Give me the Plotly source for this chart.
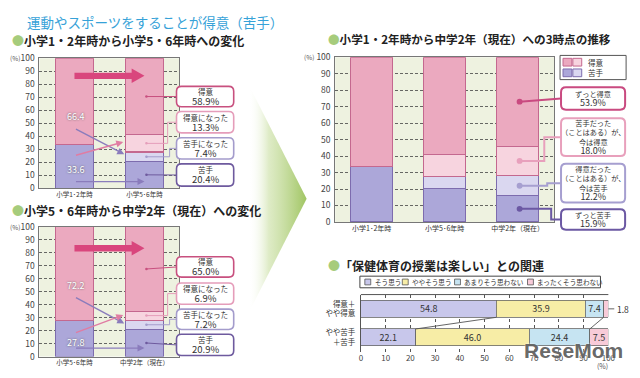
import plotly.graph_objects as go

W, H = 640, 378
FONT = "Noto Sans CJK JP"

# ---------------- data ----------------
stages_a = ["小学1･2年時", "小学5･6年時"]
stages_b = ["小学5･6年時", "中学2年（現在）"]
stages_c = ["小学1･2年時", "小学5･6年時", "中学2年（現在）"]

# stacked from bottom: 苦手, 苦手になった, 得意になった, 得意
labels_ab = ["苦手", "苦手になった", "得意になった", "得意"]
a_nigate = [33.6, 20.4]
a_to_nigate = [None, 7.4]
a_to_tokui = [None, 13.3]
a_tokui = [66.4, 58.9]

b_nigate = [27.8, 20.9]
b_to_nigate = [None, 7.2]
b_to_tokui = [None, 6.9]
b_tokui = [72.2, 65.0]

labels_c = ["ずっと苦手", "得意だった<br>（ことはある）が、<br>今は苦手",
            "苦手だった<br>（ことはある）が、<br>今は得意", "ずっと得意"]
c_zutto_nigate = [33.6, 20.4, 15.9]
c_now_nigate = [None, 7.4, 12.2]
c_now_tokui = [None, 13.3, 18.0]
c_zutto_tokui = [66.4, 58.9, 53.9]

groups = ["得意＋<br>やや得意", "やや苦手<br>＋苦手"]
answers = ["そう思う", "ややそう思う", "あまりそう思わない", "まったくそう思わない"]
ans_high = [54.8, 35.9, 7.4, 1.8]
ans_low = [22.1, 46.0, 24.4, 7.5]

# ---------------- styles ----------------
PINK, LPINK, PURP, LPURP = "#eba9bf", "#f7d4df", "#aca7d9", "#dad7f0"
PINK_L, PURP_L = "#c4688f", "#7d6cae"
SEG_FILL = [PURP, LPURP, LPINK, PINK]
SEG_LINE = [PURP_L, PURP_L, PINK_L, PINK_L]
BOX_AB = ["#6e5a9e", "#a49ccc", "#e59dba", "#c8507f"]   # bottom-to-top order
BOX_C = ["#6b58a3", "#a69fd0", "#e8a0bc", "#c94a80"]
ANS_COL = ["#c8c7eb", "#f7eda6", "#c6e4f2", "#f8cbd8"]
BG = "#eef2e0"

A = dict(x0=38, x1=180, y0=53, y1=187, n=2)
B = dict(x0=38, x1=180, y0=227, y1=361, n=2)
C = dict(x0=338, x1=560, y0=52, y1=222, n=3)
D = dict(x0=364, x1=615, y0=297, y1=356)


def fx(p): return p / W
def fy(p): return 1 - p / H
def cx(G, i): return G["x0"] + (i + 0.5) * (G["x1"] - G["x0"]) / G["n"]
def cy(G, v): return G["y1"] - v / 100 * (G["y1"] - G["y0"])


fig = go.Figure()
shapes, anns = [], []


def add_stack(G, cats, series, xa, ya, width):
    for k, vals in enumerate(series):
        fig.add_trace(go.Bar(x=cats, y=vals, xaxis=xa, yaxis=ya, width=width,
                             marker=dict(color=SEG_FILL[k], line=dict(color=SEG_LINE[k], width=1.1)),
                             showlegend=False, hoverinfo="skip"))


add_stack(A, stages_a, [a_nigate, a_to_nigate, a_to_tokui, a_tokui], "x", "y", 0.55)
add_stack(B, stages_b, [b_nigate, b_to_nigate, b_to_tokui, b_tokui], "x2", "y2", 0.55)
add_stack(C, stages_c, [c_zutto_nigate, c_now_nigate, c_now_tokui, c_zutto_tokui], "x3", "y3", 0.57)

for k, name in enumerate(answers):
    vals = [ans_high[k], ans_low[k]]
    fig.add_trace(go.Bar(y=[0, 1], x=vals, orientation="h", xaxis="x4", yaxis="y4", width=0.59,
                         name=name, showlegend=False, hoverinfo="skip",
                         marker=dict(color=ANS_COL[k], line=dict(color="#666", width=0.8)),
                         text=[f"{v:.1f}" if v >= 3 else "" for v in vals],
                         textposition="inside", insidetextanchor="middle", constraintext="none",
                         textangle=0,
                         textfont=dict(size=9, color="#333", family=FONT)))

# gradient arrow in pixel space overlay
fig.add_trace(go.Scatter(x=[250, 309, 250, 250], y=[80, 198, 316, 80], xaxis="x5", yaxis="y5",
                         mode="lines", fill="toself", line=dict(width=0, color="rgba(0,0,0,0)"),
                         fillgradient=dict(type="horizontal",
                                           colorscale=[[0, "rgba(255,255,255,0)"], [0.35, "rgba(200,222,160,0.6)"],
                                                       [1, "rgba(160,197,98,1)"]]),
                         showlegend=False, hoverinfo="skip"))

layout_axes = {}


def bar_axes(G, xn, yn, tick_size, cat_size):
    xid = "x" if xn == "" else "x" + xn
    yid = "y" if yn == "" else "y" + yn
    layout_axes["xaxis" + xn] = dict(domain=[fx(G["x0"]), fx(G["x1"])], anchor=yid,
                                     range=[-0.5, G["n"] - 0.5], showline=True, linecolor="#777",
                                     linewidth=1, mirror=True, ticks="", showgrid=False,
                                     tickfont=dict(size=cat_size, color="#333", family=FONT))
    layout_axes["yaxis" + yn] = dict(domain=[fy(G["y1"]), fy(G["y0"])], anchor=xid, range=[0, 100],
                                     dtick=10, showgrid=True, gridcolor="#444", griddash="3px,2px",
                                     gridwidth=0.8, showline=True, linecolor="#777", linewidth=1,
                                     mirror=True, ticks="", zeroline=False, ticklabelstandoff=2,
                                     tickfont=dict(size=tick_size, color="#444", family=FONT))
    shapes.append(dict(type="rect", xref="paper", yref="paper", layer="below",
                       x0=fx(G["x0"]), x1=fx(G["x1"]), y0=fy(G["y1"]), y1=fy(G["y0"]),
                       fillcolor=BG, line=dict(width=0)))


bar_axes(A, "", "", 8.5, 6.5)
bar_axes(B, "2", "2", 8.5, 6.5)
bar_axes(C, "3", "3", 8.5, 7)

layout_axes["xaxis4"] = dict(domain=[fx(D["x0"]), fx(D["x1"])], anchor="y4", range=[0, 100], dtick=10,
                             showgrid=True, gridcolor="#555", griddash="dot", gridwidth=1,
                             showline=False, zeroline=False, ticks="",
                             tickfont=dict(size=8, color="#444", family=FONT))
layout_axes["yaxis4"] = dict(domain=[fy(D["y1"]), fy(D["y0"])], anchor="x4", range=[1.5, -0.5],
                             tickvals=[0, 1], ticktext=groups, showline=True, linecolor="#555",
                             showgrid=False, zeroline=False, ticks="", ticklabelstandoff=3,
                             tickfont=dict(size=7.5, color="#333", family=FONT))
layout_axes["xaxis5"] = dict(domain=[0, 1], range=[0, W], visible=False, anchor="y5", fixedrange=True)
layout_axes["yaxis5"] = dict(domain=[0, 1], range=[H, 0], visible=False, anchor="x5", fixedrange=True)

shapes.append(dict(type="line", xref="x5", yref="y5", x0=D["x0"], x1=D["x1"], y0=D["y0"], y1=D["y0"],
                   line=dict(color="#555", width=1)))


def px_ann(x, y, text, size, color="#333", xanchor="center", **kw):
    d = dict(x=x, y=y, xref="x5", yref="y5", text=text, showarrow=False, xanchor=xanchor,
             yanchor="middle", font=dict(size=size, color=color, family=FONT))
    d.update(kw)
    anns.append(d)


def rrect(x0, y0, x1, y1, r, color, width):
    p = (f"M{x0 + r},{y0} L{x1 - r},{y0} Q{x1},{y0} {x1},{y0 + r} L{x1},{y1 - r} Q{x1},{y1} {x1 - r},{y1} "
         f"L{x0 + r},{y1} Q{x0},{y1} {x0},{y1 - r} L{x0},{y0 + r} Q{x0},{y0} {x0 + r},{y0} Z")
    shapes.append(dict(type="path", path=p, xref="x5", yref="y5", fillcolor="white",
                       line=dict(color=color, width=width), layer="above"))


def callouts(G, vals, labels, boxes, turns, bx0, bx1, colors, lw, dotr, base, numsize):
    cum, mids = 0, []
    for v in vals:
        mids.append(cum + v / 2)
        cum += v
    xd = cx(G, G["n"] - 1) + 2
    for k in range(4):
        by0, by1 = boxes[k]
        yc = (by0 + by1) / 2
        ym = cy(G, mids[k])
        t = turns[k]
        if t is None:
            path = f"M{xd},{ym} L{bx0},{yc}"
        else:
            path = f"M{xd},{ym} L{t},{ym} L{t},{yc} L{bx0},{yc}"
        shapes.append(dict(type="path", path=path, xref="x5", yref="y5", line=dict(color=colors[k], width=lw)))
        shapes.append(dict(type="circle", xref="x5", yref="y5", x0=xd - dotr, x1=xd + dotr,
                           y0=ym - dotr, y1=ym + dotr, fillcolor=colors[k], line=dict(width=0)))
        rrect(bx0, by0, bx1, by1, 5, colors[k], lw if lw > 1.5 else 1.6)
        px_ann((bx0 + bx1) / 2, yc + 0.5,
               f"{labels[k]}<br><span style='font-size:{numsize}px'>{vals[k]:.1f}%</span>", base)


# chart A callouts (bottom-to-top order)
callouts(A, [a_nigate[1], a_to_nigate[1], a_to_tokui[1], a_tokui[1]], labels_ab,
         [(162, 185), (135, 157), (108, 130), (82, 103)], [None, 170, 168, None],
         177, 235, BOX_AB, 1, 1.3, 7.5, 9.5)
callouts(B, [b_nigate[1], b_to_nigate[1], b_to_tokui[1], b_tokui[1]], labels_ab,
         [(338, 360), (312, 333), (285, 307), (258, 279)], [None, 170, 168, None],
         177, 235, BOX_AB, 1, 1.3, 7.5, 9.5)
callouts(C, [c_zutto_nigate[2], c_now_nigate[2], c_now_tokui[2], c_zutto_tokui[2]], labels_c,
         [(209, 230), (162, 202), (115, 154), (83, 106)], [557, 553, 550, None],
         567, 632, BOX_C, 2, 3, 7.2, 9)


def flow_arrows(G, big_v, d1, d2, bottom_v, t_hi, t_lo, hi_val, lo_val):
    xs, xt = cx(G, 0), cx(G, 1)
    xb = xt - 13
    y = cy(G, big_v)
    p = (f"M{xs},{y - 3.3} L{xb},{y - 3.3} L{xb},{y - 7.5} L{xt},{y} L{xb},{y + 7.5} "
         f"L{xb},{y + 3.3} L{xs},{y + 3.3} Z")
    shapes.append(dict(type="path", path=p, xref="x5", yref="y5", fillcolor="#d9467d",
                       line=dict(width=0), layer="above"))
    xl = G["x0"] + 1.5 * (G["x1"] - G["x0"]) / G["n"] - 0.55 * (G["x1"] - G["x0"]) / G["n"] / 2
    for (v0, v1, col, xe) in [(d1[0], d1[1], "#8a7cbc", xl - 1), (d2[0], d2[1], "#e07ca3", xl - 2),
                              (bottom_v, bottom_v, "#8a7cbc", xt)]:
        anns.append(dict(x=xe, y=cy(G, v1), ax=xs, ay=cy(G, v0), xref="x5", yref="y5",
                         axref="x5", ayref="y5", text="", showarrow=True, arrowhead=2,
                         arrowsize=1, arrowwidth=1.4, arrowcolor=col))
    for (v, txt) in [(t_hi, hi_val), (t_lo, lo_val)]:
        px_ann(xs + 2, cy(G, v), f"{txt:.1f}", 9, color="white",
               font=dict(size=9, color="white", family=FONT, shadow="0px 0px 2px #555"))


flow_arrows(A, 86.5, (46, 26), (25, 35.5), 5, 55, 14, a_tokui[0], a_nigate[0])
flow_arrows(B, 83.5, (46, 25.5), (18, 32), 6.5, 55, 10.5, b_tokui[0], b_nigate[0])

# connectors in bottom chart (from cumulative values)
ch, cl = 0, 0
cum_h, cum_l = [], []
for vh, vl in zip(ans_high, ans_low):
    ch += vh
    cl += vl
    cum_h.append(ch)
    cum_l.append(cl)
for k in (0, 2):
    shapes.append(dict(type="line", xref="x4", yref="y4", x0=cum_h[k], x1=cum_l[k], y0=0.295, y1=0.705,
                       line=dict(color="#555", width=0.9)))
row0 = D["y0"] + (D["y1"] - D["y0"]) / 4
shapes.append(dict(type="line", xref="x5", yref="y5", x0=615, x1=621, y0=row0, y1=row0,
                   line=dict(color="#555", width=0.9)))
px_ann(622, row0, f"{ans_high[3]:.1f}", 8.5, xanchor="left")
px_ann(609, 371, "(%)", 7, color="#555")

# bottom legend
shapes.append(dict(type="rect", xref="x5", yref="y5", x0=363, x1=607, y0=278, y1=290,
                   line=dict(color="#444", width=1), fillcolor="white"))
for k, xs in enumerate([368, 406, 459, 533]):
    shapes.append(dict(type="rect", xref="x5", yref="y5", x0=xs, x1=xs + 6, y0=281, y1=287,
                       fillcolor=ANS_COL[k], line=dict(color="#555", width=0.8)))
    px_ann(xs + 8, 284, answers[k], 6.6, xanchor="left")

# chart C legend
shapes.append(dict(type="rect", xref="x5", yref="y5", x0=566, x1=633, y0=50, y1=75,
                   line=dict(color="#555", width=1), fillcolor="white"))
for (yy, c1, c2, lc, name) in [(53, PINK, LPINK, PINK_L, "得意"), (64, PURP, LPURP, PURP_L, "苦手")]:
    shapes.append(dict(type="rect", xref="x5", yref="y5", x0=569, x1=578, y0=yy, y1=yy + 8,
                       fillcolor=c1, line=dict(color=lc, width=1)))
    shapes.append(dict(type="rect", xref="x5", yref="y5", x0=579, x1=588, y0=yy, y1=yy + 8,
                       fillcolor=c2, line=dict(color=lc, width=1)))
    px_ann(592, yy + 4, name, 7.5, xanchor="left")

# titles
GREEN = "#a6cc7c"
px_ann(155, 15, "運動やスポーツをすることが得意（苦手）", 13.5, color="#36a2d8")
px_ann(8, 35, f"<span style='color:{GREEN}'>●</span><b>小学1・2年時から小学5・6年時への変化</b>", 12, color="#222", xanchor="left")
px_ann(8, 210, f"<span style='color:{GREEN}'>●</span><b>小学5・6年時から中学2年（現在）への変化</b>", 12, color="#222", xanchor="left")
px_ann(329, 33, f"<span style='color:{GREEN}'>●</span><b>小学1・2年時から中学2年（現在）への3時点の推移</b>", 11.6, color="#222", xanchor="left")
px_ann(329, 267, f"<span style='color:{GREEN}'>●</span><b>「保健体育の授業は楽しい」との関連</b>", 12, color="#222", xanchor="left")
px_ann(13, 53, "(%)", 6.5, color="#555")
px_ann(13, 227, "(%)", 6.5, color="#555")
px_ann(311, 52, "(%)", 6.5, color="#555")

# watermark
px_ann(580, 355, "<b>ReseMom</b>", 21, color="rgba(85,85,85,0.9)",
       font=dict(size=21, color="rgba(85,85,85,0.9)", family="Liberation Sans", shadow="0px 0px 2px white"))

fig.update_layout(width=W, height=H, autosize=False, margin=dict(l=0, r=0, t=0, b=0),
                  paper_bgcolor="white", plot_bgcolor="rgba(0,0,0,0)", barmode="stack",
                  font=dict(family=FONT, color="#333"), shapes=shapes, annotations=anns,
                  showlegend=False, **layout_axes)

fig.write_html("out.html", config={"displayModeBar": False, "staticPlot": True},
               post_script="document.body.style.margin='0px';")
